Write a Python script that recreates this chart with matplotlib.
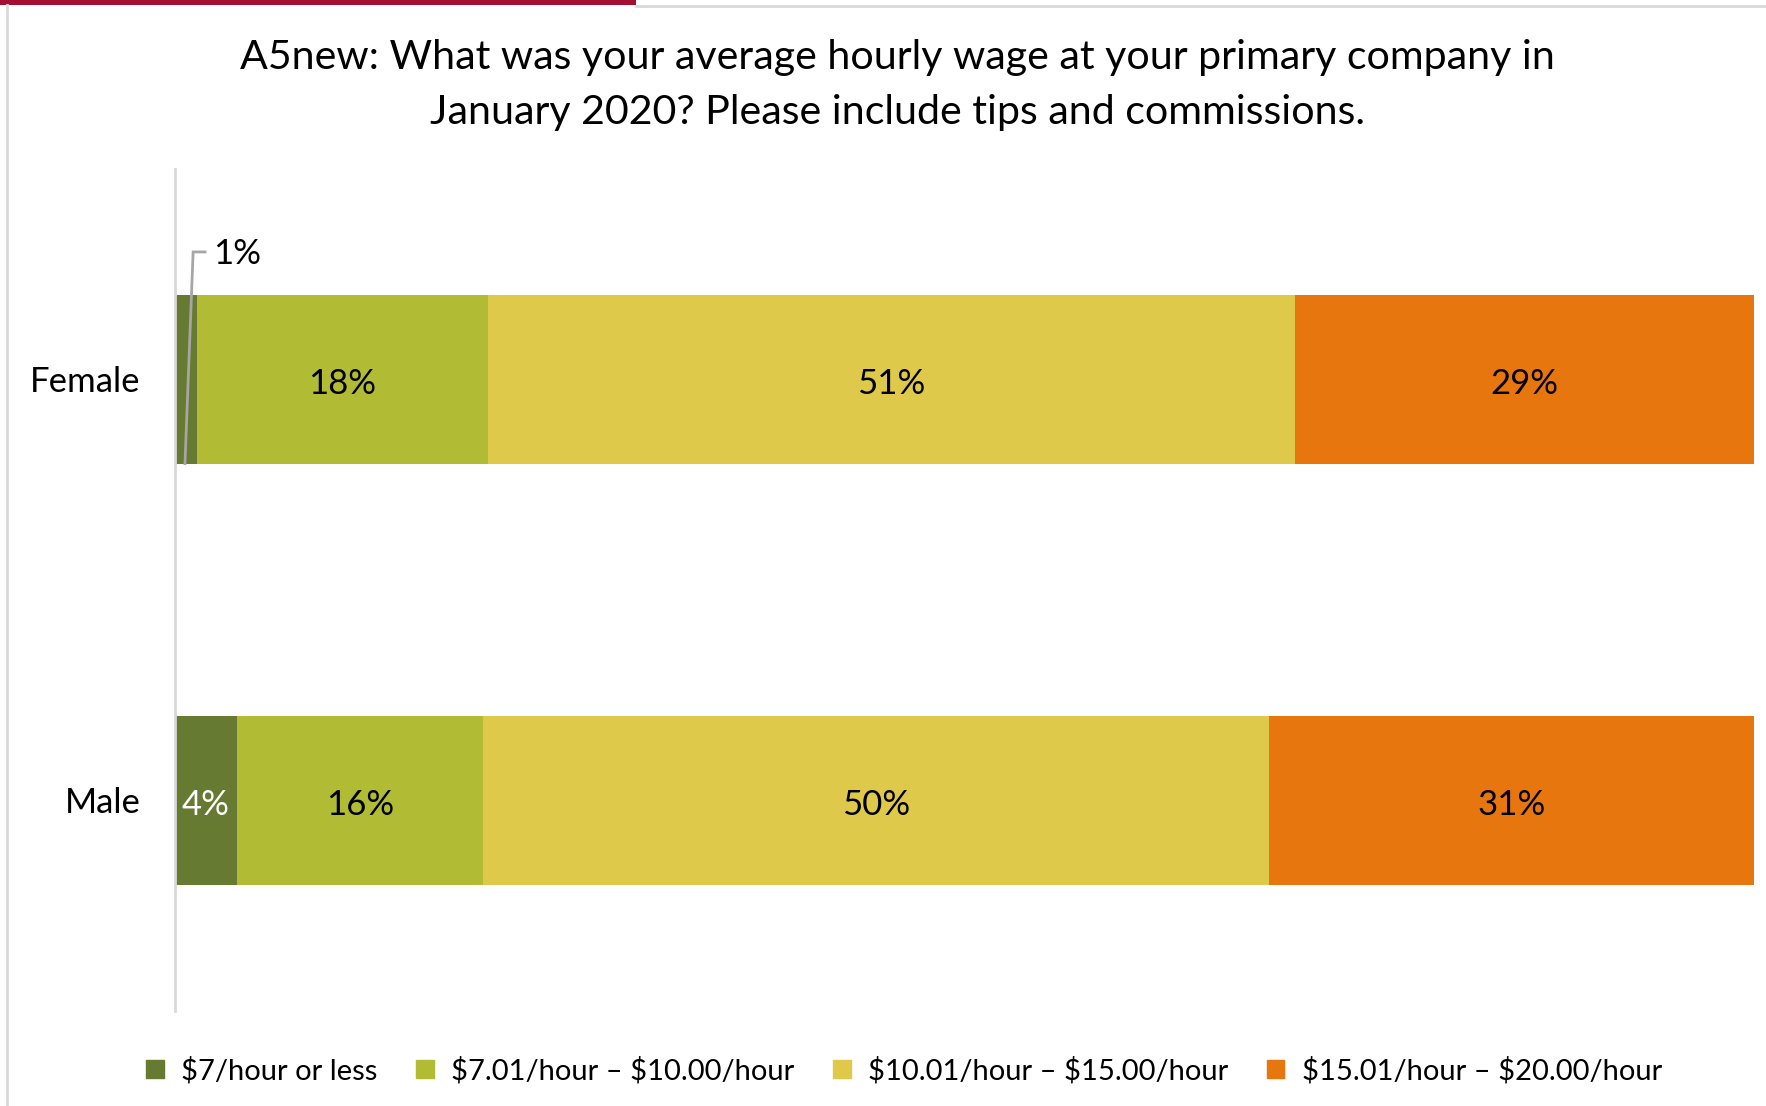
import matplotlib.pyplot as plt
from matplotlib.lines import Line2D
from matplotlib.patches import Rectangle, Patch

plt.rcParams['font.family'] = ['Lato', 'DejaVu Sans']

# dados
grupos = ['Male', 'Female']
faixas = ['\\$7/hour or less', '\\$7.01/hour – \\$10.00/hour',
          '\\$10.01/hour – \\$15.00/hour', '\\$15.01/hour – \\$20.00/hour']
male = [3.9, 15.6, 49.8, 30.7]
female = [1.4, 18.4, 51.1, 29.1]
cores = ['#667A32', '#B1BB33', '#DFC94B', '#E8760E']

fig = plt.figure(figsize=(17.66, 11.06), dpi=100)
ax = fig.add_axes([0.0991, 0.0859, 0.8941, 0.7613])

valores = [male, female]
altura = 0.4
for i, serie in enumerate(valores):
    esquerda = 0
    for j, v in enumerate(serie):
        ax.barh(i, v, left=esquerda, height=altura, color=cores[j], edgecolor='none')
        if not (i == 1 and j == 0):
            cor_txt = 'white' if j == 0 else 'black'
            ax.text(esquerda + v / 2, i - 0.01, '{:.0f}%'.format(v), ha='center', va='center',
                    fontsize=25, color=cor_txt)
        esquerda += v

# rotulo do 1% com linha de chamada
v0 = female[0]
ax.plot([v0 * 0.45, v0 * 0.82, v0 * 1.36], [1 - altura / 2, 1.303, 1.303],
        color='#A6A6A6', lw=2, solid_joinstyle='miter', clip_on=False)
ax.text(v0 * 1.72, 1.298, '{:.0f}%'.format(v0), ha='left', va='center', fontsize=25)

ax.set_xlim(0, 100)
ax.set_ylim(-0.5, 1.5)
ax.set_yticks([0, 1])
ax.set_yticklabels(grupos, fontsize=25)
ax.tick_params(axis='y', length=0, pad=25)
ax.set_xticks([])
for s in ['top', 'right', 'bottom']:
    ax.spines[s].set_visible(False)
ax.spines['left'].set_color('#D9D9D9')
ax.spines['left'].set_linewidth(2)

fig.text(0.508, 0.948, 'A5new: What was your average hourly wage at your primary company in',
         ha='center', va='center', fontsize=29.6)
fig.text(0.508, 0.898, 'January 2020? Please include tips and commissions.',
         ha='center', va='center', fontsize=29.6)

handles = [Patch(color=c) for c in cores]
fig.legend(handles, faixas, loc='center', bbox_to_anchor=(0.512, 0.032), ncol=4,
           frameon=False, fontsize=21, handlelength=0.6, handleheight=0.6,
           handletextpad=0.6, columnspacing=1.32)

# moldura
fig.add_artist(Rectangle((0, 1 - 5 / 1106), 636 / 1766, 5 / 1106, transform=fig.transFigure,
                         color='#A50E33', lw=0))
fig.add_artist(Line2D([636 / 1766, 1], [1 - 6 / 1106] * 2, transform=fig.transFigure,
                      color='#D9D9D9', lw=2))
fig.add_artist(Line2D([7 / 1766] * 2, [0, 1 - 5 / 1106], transform=fig.transFigure,
                      color='#D9D9D9', lw=2))

fig.savefig('out.png', dpi=100)
